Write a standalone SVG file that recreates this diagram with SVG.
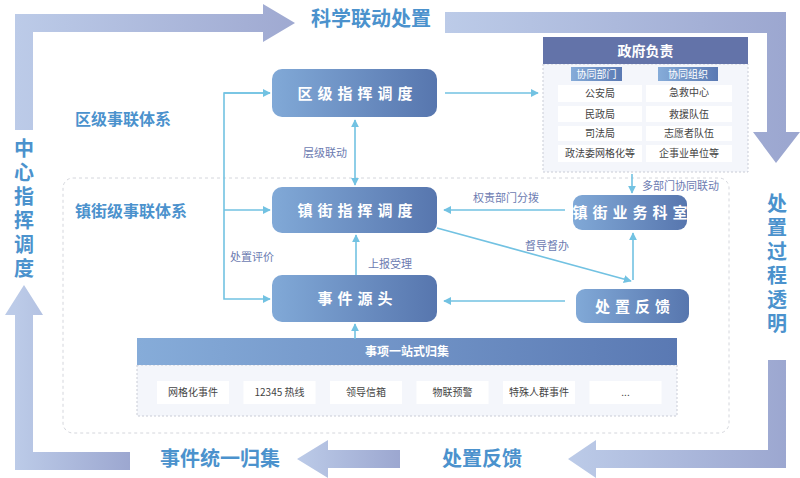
<svg xmlns="http://www.w3.org/2000/svg" width="800" height="478" viewBox="0 0 800 478">
<defs>
<linearGradient id="gTop" gradientUnits="userSpaceOnUse" x1="15" y1="0" x2="295" y2="0"><stop offset="0" stop-color="#bccbe8"/><stop offset="1" stop-color="#9fa9d1"/></linearGradient>
<linearGradient id="gTopR" gradientUnits="userSpaceOnUse" x1="445" y1="0" x2="786" y2="0"><stop offset="0" stop-color="#bccbe8"/><stop offset="1" stop-color="#9ca7d0"/></linearGradient>
<linearGradient id="gBR" gradientUnits="userSpaceOnUse" x1="568" y1="0" x2="786" y2="0"><stop offset="0" stop-color="#bccbe8"/><stop offset="1" stop-color="#9ca7d0"/></linearGradient>
<linearGradient id="gBM" gradientUnits="userSpaceOnUse" x1="297" y1="0" x2="400" y2="0"><stop offset="0" stop-color="#bccbe8"/><stop offset="1" stop-color="#9ca7d0"/></linearGradient>
<linearGradient id="gBL" gradientUnits="userSpaceOnUse" x1="15" y1="0" x2="130" y2="0"><stop offset="0" stop-color="#bccbe8"/><stop offset="1" stop-color="#9ca7d0"/></linearGradient>
<linearGradient id="gNode" x1="0" y1="0" x2="1" y2="0"><stop offset="0" stop-color="#81a9d7"/><stop offset="1" stop-color="#5776ae"/></linearGradient>
<linearGradient id="gSub" x1="0" y1="0" x2="1" y2="0"><stop offset="0" stop-color="#86acd9"/><stop offset="1" stop-color="#5a79b3"/></linearGradient>
<marker id="ah" viewBox="0 0 10 10" refX="9" refY="5" markerWidth="8" markerHeight="8" markerUnits="userSpaceOnUse" orient="auto-start-reverse"><path d="M0,0 L10,5 L0,10 z" fill="#72c2e2"/></marker>
</defs>
<style>
.frame{font-family:"Noto Sans CJK SC","Noto Sans",sans-serif;font-weight:bold;font-size:20px;fill:#4b92cd}
.vert{writing-mode:vertical-rl;text-orientation:upright;letter-spacing:4px}
.sec{font-family:"Noto Sans CJK SC","Noto Sans",sans-serif;font-weight:bold;font-size:16px;fill:#4b92cd}
.nt{font-family:"Noto Sans CJK SC","Noto Sans",sans-serif;font-weight:bold;font-size:15px;fill:#ffffff;letter-spacing:5px}
.lbl{font-family:"Noto Sans CJK SC","Noto Sans",sans-serif;font-size:11px;fill:#6c7bb1}
.cell{font-family:"Noto Sans CJK SC","Noto Sans",sans-serif;font-size:10px;fill:#444444}
.wt{font-family:"Noto Sans CJK SC","Noto Sans",sans-serif;fill:#ffffff}
.conn{stroke:#72c2e2;stroke-width:1.6;fill:none}
.box{fill:#ffffff}
</style>
<rect width="800" height="478" fill="#ffffff"/>

<g id="frame-arrows">
<polygon points="15,130 15,14 263,14 263,4 295,23 263,42 263,32 33,32 33,130" fill="url(#gTop)"/>
<polygon points="445,12 786,12 786,132 800,132 776,163 753,132 767,132 767,33 445,33" fill="url(#gTopR)"/>
<polygon points="786,360 786,468 596,468 596,478 568,459 596,440 596,450 768,450 768,360" fill="url(#gBR)"/>
<polygon points="400,450 400,468 328,468 328,478 297,459 328,440 328,450" fill="url(#gBM)"/>
<polygon points="130,452 130,470 15,470 15,315 5,315 24,285 43,315 33,315 33,452" fill="url(#gBL)"/>
<text class="frame" x="371" y="26" text-anchor="middle" font-size="21">科学联动处置</text>
<text class="frame" x="220" y="466" text-anchor="middle">事件统一归集</text>
<text class="frame" x="482" y="466" text-anchor="middle">处置反馈</text>
<text class="frame vert" x="24" y="138">中心指挥调度</text>
<text class="frame vert" x="777" y="193">处置过程透明</text>
</g>

<rect id="town-area" x="63" y="178" width="666" height="255" rx="10" fill="none" stroke="#d4d6dc" stroke-width="1" stroke-dasharray="3,3"/>
<text class="sec" x="75" y="125">区级事联体系</text>
<text class="sec" x="75" y="217">镇街级事联体系</text>

<g id="gov">
<rect x="543" y="64" width="205" height="108" fill="#f4f6fb" stroke="#c9ccd6" stroke-width="1" stroke-dasharray="2,2"/>
<rect x="543" y="37" width="205" height="27" fill="#6373a9"/>
<text class="wt" x="645.5" y="56" text-anchor="middle" font-size="14" font-weight="bold">政府负责</text>
<rect x="571" y="67" width="51" height="14" fill="url(#gSub)"/>
<rect x="658" y="67" width="60" height="14" fill="url(#gSub)"/>
<text class="wt" x="596.5" y="78" text-anchor="middle" font-size="10">协同部门</text>
<text class="wt" x="688" y="78" text-anchor="middle" font-size="10">协同组织</text>
<rect class="box" x="558" y="85" width="84" height="17"/><rect class="box" x="646" y="85" width="86" height="17"/>
<rect class="box" x="558" y="106" width="84" height="16"/><rect class="box" x="646" y="106" width="86" height="16"/>
<rect class="box" x="558" y="126" width="84" height="15"/><rect class="box" x="646" y="126" width="86" height="15"/>
<rect class="box" x="558" y="145" width="84" height="17"/><rect class="box" x="646" y="145" width="86" height="17"/>
<g class="cell" text-anchor="middle">
<text x="600" y="97">公安局</text><text x="689" y="96">急救中心</text>
<text x="600" y="118">民政局</text><text x="689" y="118">救援队伍</text>
<text x="600" y="137">司法局</text><text x="689" y="137">志愿者队伍</text>
<text x="600" y="157">政法委网格化等</text><text x="689" y="157">企事业单位等</text>
</g>
</g>

<g id="district-command">
<rect x="272" y="69" width="165" height="48" rx="10" fill="url(#gNode)"/>
<text class="nt" x="357.5" y="99" text-anchor="middle">区级指挥调度</text>
</g>
<g id="town-command">
<rect x="272" y="187" width="165" height="46" rx="10" fill="url(#gNode)"/>
<text class="nt" x="357.5" y="216" text-anchor="middle">镇街指挥调度</text>
</g>
<g id="event-source">
<rect x="272" y="275" width="165" height="47" rx="10" fill="url(#gNode)"/>
<text class="nt" x="357.5" y="304" text-anchor="middle">事件源头</text>
</g>
<g id="town-office">
<rect x="573" y="195" width="114" height="35" rx="9" fill="url(#gNode)"/>
<text class="nt" x="632.5" y="218" text-anchor="middle" font-size="14">镇街业务科室</text>
</g>
<g id="feedback">
<rect x="576" y="289" width="113" height="34" rx="9" fill="url(#gNode)"/>
<text class="nt" x="635" y="312" text-anchor="middle">处置反馈</text>
</g>

<g id="collection">
<rect x="137" y="365" width="540" height="51" fill="#f4f6fb" stroke="#c9ccd6" stroke-width="1" stroke-dasharray="2,2"/>
<rect x="137" y="338" width="540" height="27" fill="url(#gSub)"/>
<text class="wt" x="407" y="356" text-anchor="middle" font-size="12" font-weight="bold">事项一站式归集</text>
<rect class="box" x="157" y="381" width="72" height="23"/>
<rect class="box" x="243.5" y="381" width="72" height="23"/>
<rect class="box" x="330" y="381" width="72" height="23"/>
<rect class="box" x="416.5" y="381" width="72" height="23"/>
<rect class="box" x="503" y="381" width="72" height="23"/>
<rect class="box" x="589.5" y="381" width="72" height="23"/>
<g class="cell" text-anchor="middle" fill="#555555">
<text x="193" y="396">网格化事件</text>
<text x="279.5" y="396">12345 热线</text>
<text x="366" y="396">领导信箱</text>
<text x="452.5" y="396">物联预警</text>
<text x="539" y="396">特殊人群事件</text>
<text x="625.5" y="396">...</text>
</g>
</g>

<g id="connectors">
<line class="conn" x1="445" y1="93" x2="538" y2="93" marker-end="url(#ah)"/>
<line class="conn" x1="355" y1="120" x2="355" y2="185" marker-start="url(#ah)" marker-end="url(#ah)"/>
<polyline class="conn" points="270,93 224,93 224,299 270,299" marker-end="url(#ah)"/>
<line class="conn" x1="224" y1="210" x2="270" y2="210" marker-end="url(#ah)"/>
<line class="conn" x1="224" y1="93" x2="270" y2="93" marker-end="url(#ah)"/>
<line class="conn" x1="356" y1="275" x2="356" y2="235" marker-end="url(#ah)"/>
<line class="conn" x1="565" y1="210" x2="444" y2="210" marker-end="url(#ah)"/>
<line class="conn" x1="437" y1="228" x2="631" y2="281" marker-end="url(#ah)"/>
<line class="conn" x1="633" y1="280" x2="633" y2="233" marker-end="url(#ah)"/>
<line class="conn" x1="632" y1="174" x2="632" y2="193" marker-end="url(#ah)"/>
<line class="conn" x1="565" y1="301" x2="444" y2="301" marker-end="url(#ah)"/>
<line class="conn" x1="355" y1="339" x2="355" y2="324" marker-end="url(#ah)"/>
<text class="lbl" x="303" y="157">层级联动</text>
<text class="lbl" x="230" y="261">处置评价</text>
<text class="lbl" x="368" y="268">上报受理</text>
<text class="lbl" x="473" y="202">权责部门分拨</text>
<text class="lbl" x="525" y="250">督导督办</text>
<text class="lbl" x="642" y="190">多部门协同联动</text>
</g>
</svg>
